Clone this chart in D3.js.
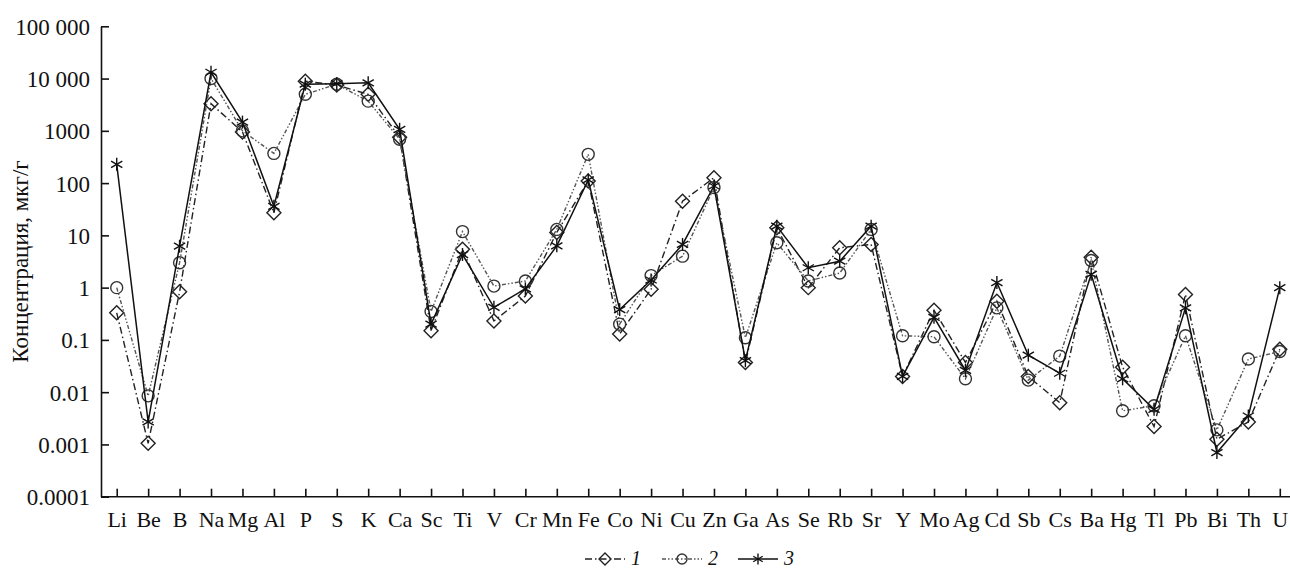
<html>
<head>
    <meta charset="utf-8">
    <script src="https://d3js.org/d3.v7.min.js"></script>
    <style>
        body { margin: 0; background: #fff; }
        text { font-family: "Liberation Serif", "Times New Roman", serif; fill: #111; }
    </style>
</head>
<body>
    <div id="cont"></div>
    <script>
        // elements along x
        var elements = ["Li","Be","B","Na","Mg","Al","P","S","K","Ca","Sc","Ti","V","Cr","Mn","Fe","Co","Ni","Cu","Zn",
                        "Ga","As","Se","Rb","Sr","Y","Mo","Ag","Cd","Sb","Cs","Ba","Hg","Tl","Pb","Bi","Th","U"];

        // series 1 (diamonds)
        var s1 = [0.33, 0.00105, 0.83, 3300, 950, 27, 8900, 7500, 5000, 750, 0.15, 5.4, 0.23, 0.69, 11.4, 110, 0.13, 0.93, 45, 127,
                  0.037, 14, 1.0, 5.8, 6.7, 0.02, 0.37, 0.037, 0.55, 0.02, 0.0063, 3.8, 0.03, 0.0022, 0.74, 0.00126, 0.0027, 0.066];
        // series 2 (circles)
        var s2 = [1.0, 0.0085, 3.0, 10000, 1000, 370, 5000, 7800, 3700, 690, 0.35, 11.8, 1.07, 1.34, 13, 355, 0.2, 1.7, 4.0, 82,
                  0.11, 7.2, 1.34, 1.9, 13, 0.12, 0.115, 0.018, 0.41, 0.017, 0.049, 3.3, 0.0044, 0.0055, 0.12, 0.0019, 0.043, 0.06];
        // series 3 (stars)
        var s3 = [229, 0.0027, 6.2, 13200, 1470, 36, 7800, 8000, 8300, 1070, 0.2, 4.3, 0.42, 0.95, 6.3, 115, 0.38, 1.4, 6.7, 88,
                  0.04, 15, 2.4, 3.2, 15, 0.02, 0.27, 0.026, 1.25, 0.051, 0.023, 1.8, 0.018, 0.0047, 0.41, 0.0007, 0.0035, 1.0];

        var yTicks = [0.0001, 0.001, 0.01, 0.1, 1, 10, 100, 1000, 10000, 100000];
        var yTickLabels = ["0.0001","0.001","0.01","0.1","1","10","100","1000","10 000","100 000"];
        var legendLabels = ["1","2","3"];

        var W = 1290, H = 570;
        var left = 101, plotTop = 26.3, plotBottom = 496.7;

        var svg = d3.select("#cont").append("svg")
            .attr("width", W)
            .attr("height", H);

        var x = d3.scalePoint().domain(elements).range([left, 1295.5]).padding(0.5);
        var y = d3.scaleLog().domain([0.0001, 100000]).range([plotBottom, plotTop]);

        // y axis
        var yAxis = d3.axisLeft(y)
            .tickValues(yTicks)
            .tickFormat(function (d, i) { return yTickLabels[i]; })
            .tickSize(-8)
            .tickSizeOuter(0)
            .tickPadding(11);
        var gy = svg.append("g").attr("transform", "translate(" + left + ",0)").call(yAxis);
        gy.selectAll("text").style("font-size", "23px").attr("dy", "0.35em");

        // x axis
        var xAxis = d3.axisBottom(x).tickSize(-8).tickSizeOuter(0);
        var gx = svg.append("g").attr("transform", "translate(0," + plotBottom + ")").call(xAxis);
        gx.select(".domain").attr("d", "M" + left + ",0H" + W);
        gx.selectAll("text").style("font-size", "22px").attr("y", 30).attr("dy", null);

        svg.selectAll(".domain, .tick line").attr("stroke", "#111").attr("stroke-width", 1.6);

        // y title
        svg.append("text")
            .attr("transform", "translate(28," + ((plotTop + plotBottom) / 2) + ") rotate(-90)")
            .attr("text-anchor", "middle")
            .style("font-size", "23px")
            .text("Концентрация, мкг/г");

        var series = [
            { vals: s1, dash: "7,3,1.5,3", color: "#222", width: 1.4, marker: "diamond" },
            { vals: s2, dash: "4,2,1.5,2,1.5,2", color: "#555", width: 1.4, marker: "circle" },
            { vals: s3, dash: null, color: "#111", width: 1.5, marker: "star" }
        ];

        var line = d3.line()
            .x(function (d, i) { return x(elements[i]); })
            .y(function (d) { return y(d); });

        var drawMarker = function (g, type, cx, cy, sz) {
            sz = sz || 7;
            if (type == "diamond") {
                g.append("path")
                    .attr("d", "M" + cx + "," + (cy - sz) + "L" + (cx + sz) + "," + cy + "L" + cx + "," + (cy + sz) + "L" + (cx - sz) + "," + cy + "Z")
                    .attr("fill", "none").attr("stroke", "#222").attr("stroke-width", 1.4);
            } else if (type == "circle") {
                g.append("circle").attr("cx", cx).attr("cy", cy).attr("r", sz - 1)
                    .attr("fill", "none").attr("stroke", "#333").attr("stroke-width", 1.4);
            } else {
                var r = sz - 0.5;
                for (var k = 0; k < 3; k++) {
                    var a = Math.PI / 2 + k * Math.PI / 3;
                    g.append("line")
                        .attr("x1", cx - r * Math.cos(a)).attr("y1", cy - r * Math.sin(a))
                        .attr("x2", cx + r * Math.cos(a)).attr("y2", cy + r * Math.sin(a))
                        .attr("stroke", "#111").attr("stroke-width", 1.4);
                }
            }
        };

        series.forEach(function (s) {
            svg.append("path")
                .attr("d", line(s.vals))
                .attr("fill", "none")
                .attr("stroke", s.color)
                .attr("stroke-width", s.width)
                .attr("stroke-dasharray", s.dash);
            var g = svg.append("g");
            s.vals.forEach(function (v, i) {
                drawMarker(g, s.marker, x(elements[i]), y(v));
            });
        });

        // legend
        var legX = [585, 662, 738];
        var legY = 559;
        series.forEach(function (s, i) {
            var g = svg.append("g");
            g.append("line")
                .attr("x1", legX[i]).attr("x2", legX[i] + 40)
                .attr("y1", legY).attr("y2", legY)
                .attr("stroke", s.color).attr("stroke-width", s.width)
                .attr("stroke-dasharray", s.dash);
            drawMarker(g, s.marker, legX[i] + 20, legY, 6);
            g.append("text")
                .attr("x", legX[i] + 46).attr("y", legY + 6)
                .style("font-size", "20px").style("font-style", "italic")
                .text(legendLabels[i]);
        });
    </script>
</body>
</html>
